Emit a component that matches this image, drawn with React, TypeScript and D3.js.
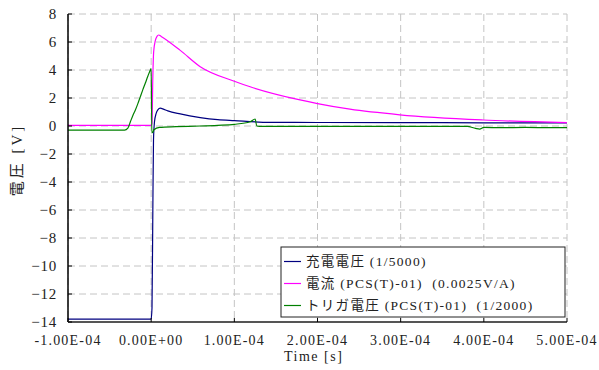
import React from "react";
import * as d3 from "d3";

// time in microseconds, value in volts
const chargeVoltage: [number, number][] = [
  [-100, -13.8], [-50, -13.8], [0, -13.8], [1, -13], [2, -6], [2.8, -1],
  [4, 0.3], [6, 0.9], [8, 1.15], [11, 1.27], [14, 1.22], [20, 1.08],
  [35, 0.86], [59, 0.6], [80, 0.45], [100, 0.38], [143, 0.26],
  [200, 0.25], [300, 0.24], [400, 0.23], [500, 0.22],
];

const current: [number, number][] = [
  [-100, 0.05], [-50, 0.05], [0, 0.05], [1, 0.2], [2, 3.5], [3, 5.3],
  [5, 6.1], [7, 6.4], [9, 6.5], [12, 6.4], [35, 5.4], [59, 4.24],
  [100, 3.2], [119, 2.8], [179, 1.86], [200, 1.6], [239, 1.2],
  [299, 0.8], [399, 0.43], [500, 0.24],
];

const triggerVoltage: [number, number][] = [
  [-100, -0.29], [-50, -0.29], [-32, -0.29], [-28, -0.15], [-25, 0.3],
  [-22, 0.75], [-19, 1.14], [-16, 1.6], [-13, 2.1], [-10, 2.6],
  [-7, 3.07], [-4, 3.55], [-1, 4.0], [0, 4.1], [0.8, -0.5], [2.5, -0.4],
  [3, -0.29], [10, -0.1], [30, -0.05], [59, 0], [80, 0.05], [100, 0.12],
  [119, 0.3], [125, 0.5], [127, 0.0], [130, -0.02], [250, -0.02],
  [380, -0.03], [390, -0.17], [395, -0.22], [400, -0.1], [420, -0.12],
  [450, -0.1], [480, -0.12], [500, -0.12],
];

const xTicks = [-1e-4, 0, 1e-4, 2e-4, 3e-4, 4e-4, 5e-4];
const yTicks = [-14, -12, -10, -8, -6, -4, -2, 0, 2, 4, 6, 8];

const seriesNames = [
  "充電電圧 (1/5000)",
  "電流 (PCS(T)-01)  (0.0025V/A)",
  "トリガ電圧 (PCS(T)-01)  (1/2000)",
];
const seriesColors = ["#000080", "#ff00ff", "#008000"];

const W = 599;
const H = 370;
const margin = { top: 14, right: 32, bottom: 48, left: 68 };
const FONT = "'Liberation Serif', 'Noto Sans CJK JP', serif";

const fmt = (v: number) => {
  const s = v.toExponential(2).toUpperCase(); // e.g. 1.00E-4
  return s.replace(/E([+-])(\d)$/, "E$10$2");
};

export default function App() {
  const x = d3
    .scaleLinear()
    .domain([-1e-4, 5e-4])
    .range([margin.left, W - margin.right]);
  const y = d3
    .scaleLinear()
    .domain([-14, 8])
    .range([H - margin.bottom, margin.top]);

  const line = d3
    .line<[number, number]>()
    .x((d) => x(d[0] * 1e-6))
    .y((d) => y(d[1]))
    .curve(d3.curveMonotoneX);

  const allSeries = [chargeVoltage, current, triggerVoltage];
  const [x0, x1] = x.range();
  const [yb, yt] = y.range();

  const lg = { x: 281, y: 247, w: 284, h: 70 };

  return (
    <svg
      width={W}
      height={H}
      style={{ position: "absolute", left: 0, top: 0, background: "#fff" }}
      fontFamily={FONT}
    >
      {/* grid */}
      {yTicks.map((t) => (
        <line
          key={"gy" + t}
          x1={x0}
          x2={x1}
          y1={y(t)}
          y2={y(t)}
          stroke="#c4c4c4"
          strokeDasharray="7,4"
        />
      ))}
      {xTicks.map((t) => (
        <line
          key={"gx" + t}
          x1={x(t)}
          x2={x(t)}
          y1={yt}
          y2={yb}
          stroke="#c4c4c4"
          strokeDasharray="7,4"
        />
      ))}

      {/* series */}
      {allSeries.map((s, i) => (
        <path
          key={i}
          d={line(s) || ""}
          fill="none"
          stroke={seriesColors[i]}
          strokeWidth={1.2}
        />
      ))}

      {/* axes */}
      <line x1={x0} x2={x0} y1={yt} y2={yb} stroke="#000" strokeWidth={1.5} />
      <line x1={x0} x2={x1} y1={yb} y2={yb} stroke="#555" strokeWidth={2} />
      {yTicks.map((t) => (
        <g key={"ty" + t}>
          <line x1={x0} x2={x0 + 4} y1={y(t)} y2={y(t)} stroke="#000" />
          <text
            x={x0 - 11}
            y={y(t)}
            dy="0.35em"
            textAnchor="end"
            fontSize={15}
            letterSpacing={0.8}
            fill="#222"
          >
            {t < 0 ? "−" + Math.abs(t) : t}
          </text>
        </g>
      ))}
      {xTicks.map((t) => (
        <g key={"tx" + t}>
          <line x1={x(t)} x2={x(t)} y1={yb} y2={yb - 4} stroke="#000" />
          <text
            x={x(t)}
            y={yb + 23}
            textAnchor="middle"
            fontSize={14}
            letterSpacing={1.2}
            fill="#222"
          >
            {fmt(t)}
          </text>
        </g>
      ))}

      {/* axis titles */}
      <text x={284} y={361} fontSize={14} letterSpacing={1.5} fill="#222">
        Time [s]
      </text>
      <text
        transform="translate(22,160) rotate(-90)"
        textAnchor="middle"
        fontSize={15}
        letterSpacing={3}
        fill="#222"
        style={{ whiteSpace: "pre" }}
      >
        電圧 [V]
      </text>

      {/* legend */}
      <rect
        x={lg.x}
        y={lg.y}
        width={lg.w}
        height={lg.h}
        fill="#fff"
        stroke="#222"
      />
      {seriesNames.map((n, i) => {
        const cy = lg.y + 14.5 + i * 22;
        return (
          <g key={n}>
            <line
              x1={lg.x + 3}
              x2={lg.x + 20}
              y1={cy}
              y2={cy}
              stroke={seriesColors[i]}
              strokeWidth={1.2}
            />
            <text
              x={lg.x + 25}
              y={cy}
              dy="0.36em"
              fontSize={13.5}
              letterSpacing={1.3}
              fill="#222"
              style={{ whiteSpace: "pre" }}
            >
              {n}
            </text>
          </g>
        );
      })}
    </svg>
  );
}
